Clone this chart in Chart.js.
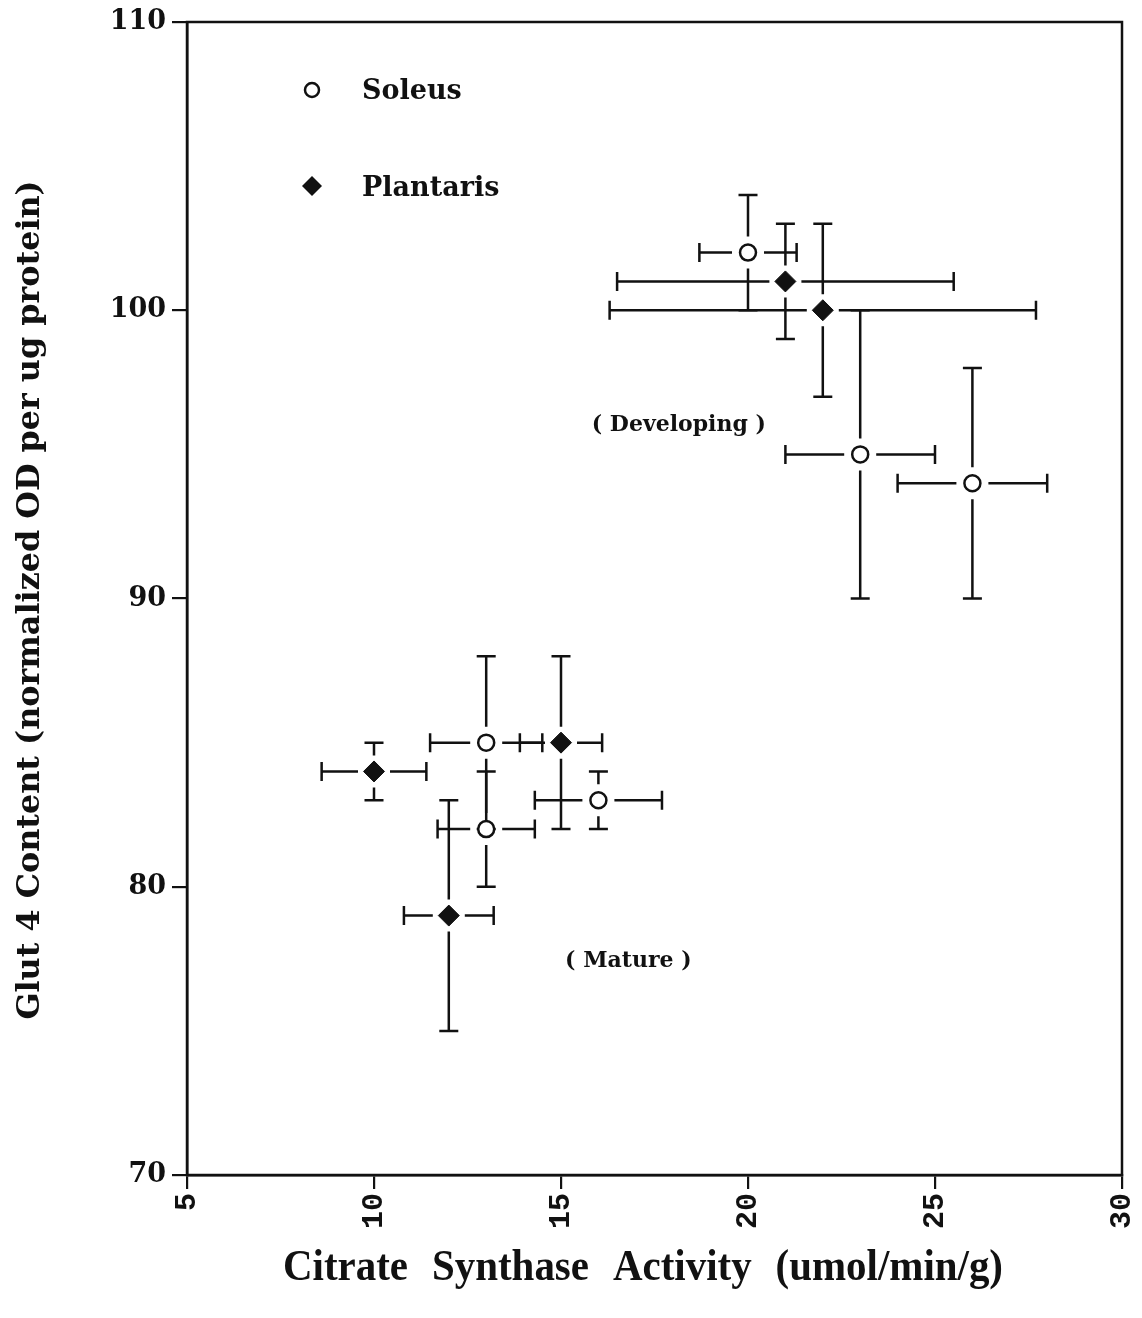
<!DOCTYPE html>
<html><head><meta charset="utf-8">
<script src="https://cdn.jsdelivr.net/npm/chart.js@4"></script>
<style>html,body{margin:0;padding:0;background:#fff}#wrap{width:1142px;height:1318px;position:relative}</style>
</head><body><div id="wrap"><canvas id="c" width="1142" height="1318"></canvas></div>
<script>
// ---- data ----
const seriesNames = ["Soleus", "Plantaris"];
const soleusX    = [20, 23, 26, 13, 13, 16];
const soleusY    = [102, 95, 94, 85, 82, 83];
const soleusXErr = [1.3, 2, 2, 1.5, 1.3, 1.7];
const soleusYErr = [2, 5, 4, 3, 2, 1];
const plantarisX    = [21, 22, 10, 15, 12];
const plantarisY    = [101, 100, 84, 85, 79];
const plantarisXErr = [4.5, 5.7, 1.4, 1.1, 1.2];
const plantarisYErr = [2, 3, 1, 3, 4];
const xTicks = [5, 10, 15, 20, 25, 30];
const yTicks = [70, 80, 90, 100, 110];
const xTitle = ["Citrate", "Synthase", "Activity", "(umol/min/g)"];
const yTitle = "Glut 4 Content (normalized OD per ug protein)";
const annotations = [{text: "( Developing )", x: 18.15, y: 96.0}, {text: "( Mature )", x: 16.8, y: 77.4}];

const SERIF = '"DejaVu Serif", serif';

function toPts(xs, ys, xe, ye){ return xs.map((x,i)=>({x:x, y:ys[i], xe:xe[i], ye:ye[i]})); }

const errorBars = {
  id: 'errorBars',
  beforeDatasetsDraw(chart){
    const ctx = chart.ctx, xs = chart.scales.x, ys = chart.scales.y;
    ctx.save();
    ctx.strokeStyle = '#111'; ctx.lineWidth = 2.5; ctx.lineCap = 'butt';
    chart.data.datasets.forEach(ds=>{
      const gap = 16, cap = 9.5;
      ds.data.forEach(p=>{
        const cx = xs.getPixelForValue(p.x), cy = ys.getPixelForValue(p.y);
        const x1 = xs.getPixelForValue(p.x - p.xe), x2 = xs.getPixelForValue(p.x + p.xe);
        const y1 = ys.getPixelForValue(p.y + p.ye), y2 = ys.getPixelForValue(p.y - p.ye);
        ctx.beginPath();
        ctx.moveTo(x1, cy); ctx.lineTo(cx - gap, cy);
        ctx.moveTo(cx + gap, cy); ctx.lineTo(x2, cy);
        ctx.moveTo(x1, cy - cap); ctx.lineTo(x1, cy + cap);
        ctx.moveTo(x2, cy - cap); ctx.lineTo(x2, cy + cap);
        ctx.moveTo(cx, y1); ctx.lineTo(cx, cy - gap);
        ctx.moveTo(cx, cy + gap); ctx.lineTo(cx, y2);
        ctx.moveTo(cx - cap, y1); ctx.lineTo(cx + cap, y1);
        ctx.moveTo(cx - cap, y2); ctx.lineTo(cx + cap, y2);
        ctx.stroke();
      });
    });
    ctx.restore();
  }
};

const decor = {
  id: 'decor',
  afterDraw(chart){
    const ctx = chart.ctx, a = chart.chartArea, xs = chart.scales.x, ys = chart.scales.y;
    ctx.save();
    // frame
    ctx.strokeStyle = '#111'; ctx.lineWidth = 2.5;
    ctx.strokeRect(a.left, a.top, a.right - a.left, a.bottom - a.top);
    // legend
    ctx.lineWidth = 2.5;
    ctx.beginPath(); ctx.arc(312, 90, 7, 0, Math.PI*2); ctx.fillStyle='#fff'; ctx.fill(); ctx.stroke();
    ctx.fillStyle = '#111';
    ctx.beginPath(); ctx.moveTo(312, 176); ctx.lineTo(322, 186); ctx.lineTo(312, 196); ctx.lineTo(302, 186); ctx.closePath(); ctx.fill();
    ctx.font = 'bold 27px ' + SERIF; ctx.textBaseline = 'middle'; ctx.textAlign = 'left';
    ctx.fillText(seriesNames[0], 362, 92);
    ctx.fillText(seriesNames[1], 362, 189);
    // annotations
    ctx.font = 'bold 22px ' + SERIF; ctx.textAlign = 'center';
    annotations.forEach(n=>ctx.fillText(n.text, xs.getPixelForValue(n.x), ys.getPixelForValue(n.y)));
    // y title
    ctx.save();
    ctx.translate(31, 600); ctx.rotate(-Math.PI/2);
    ctx.font = 'bold 30px ' + SERIF;
    const w0 = ctx.measureText(yTitle).width;
    const fs = 30 * 840 / w0;
    ctx.font = 'bold ' + fs.toFixed(1) + 'px ' + SERIF;
    ctx.textAlign = 'center'; ctx.textBaseline = 'middle';
    ctx.fillText(yTitle, 0, 0);
    ctx.restore();
    // x title (condensed serif)
    ctx.font = 'bold 44px "Liberation Serif", serif';
    ctx.textAlign = 'left'; ctx.textBaseline = 'middle';
    const widths = xTitle.map(t=>ctx.measureText(t).width);
    const total = 720, gapW = 24, sumW = widths.reduce((s,v)=>s+v,0);
    const sx = (total - gapW * (xTitle.length - 1)) / sumW;
    let px = 283;
    xTitle.forEach((t,i)=>{
      ctx.save(); ctx.translate(px, 1269); ctx.scale(sx, 1); ctx.fillText(t, 0, 0); ctx.restore();
      px += widths[i] * sx + gapW;
    });
    ctx.restore();
  }
};

new Chart(document.getElementById('c'), {
  type: 'scatter',
  data: {
    datasets: [
      { label: seriesNames[0], data: toPts(soleusX, soleusY, soleusXErr, soleusYErr),
        pointStyle: 'circle', pointRadius: 8, pointHoverRadius: 8, pointBorderWidth: 2.5,
        pointBackgroundColor: '#fff', pointBorderColor: '#111' },
      { label: seriesNames[1], data: toPts(plantarisX, plantarisY, plantarisXErr, plantarisYErr),
        pointStyle: 'rectRot', pointRadius: 10.5, pointHoverRadius: 10.5, pointBorderWidth: 1,
        pointBackgroundColor: '#111', pointBorderColor: '#111' }
    ]
  },
  options: {
    responsive: false, animation: false, devicePixelRatio: 1,
    layout: { padding: { left: 0, top: 22, right: 20, bottom: 0 } },
    plugins: { legend: { display: false }, tooltip: { enabled: false } },
    scales: {
      x: {
        type: 'linear', min: 5, max: 30,
        afterBuildTicks: s => { s.ticks = xTicks.map(v=>({value:v})); },
        afterFit: s => { s.height = 143; s.paddingLeft = 0; s.paddingRight = 0; },
        grid: { drawOnChartArea: false, drawTicks: true, tickLength: 14, color: '#111', lineWidth: 2.2 },
        border: { display: true, color: '#111', width: 2.5 },
        ticks: { minRotation: 90, maxRotation: 90, padding: 4, color: '#111',
                 font: { family: '"Liberation Mono", monospace', size: 30, weight: 'bold' } }
      },
      y: {
        type: 'linear', min: 70, max: 110,
        afterBuildTicks: s => { s.ticks = yTicks.map(v=>({value:v})); },
        afterFit: s => { s.width = 187; s.paddingTop = 0; s.paddingBottom = 0; },
        grid: { drawOnChartArea: false, drawTicks: true, tickLength: 15, color: '#111', lineWidth: 2.2 },
        border: { display: true, color: '#111', width: 2.5 },
        ticks: { padding: 6, color: '#111', font: { family: SERIF, size: 27, weight: 'bold' } }
      }
    }
  },
  plugins: [errorBars, decor]
});
</script></body></html>
